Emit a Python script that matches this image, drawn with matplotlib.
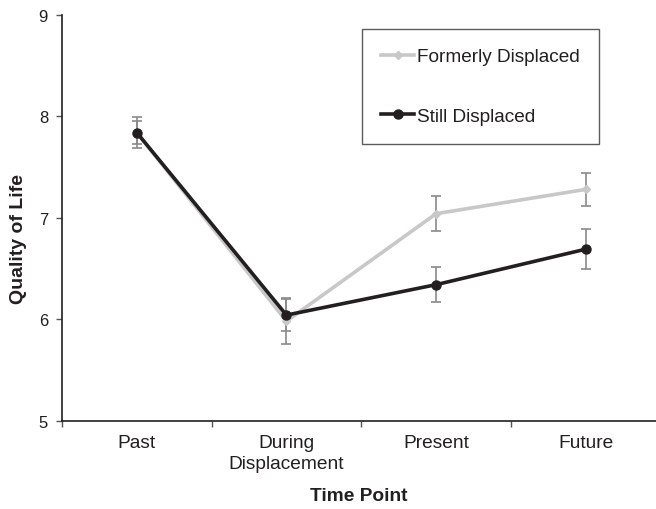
import numpy as np
import matplotlib.pyplot as plt

plt.rcParams['font.family'] = ['Liberation Sans', 'DejaVu Sans']

# data
time_points = ['Past', 'During\nDisplacement', 'Present', 'Future']
formerly = [7.84, 5.98, 7.04, 7.28]
formerly_err = [0.15, 0.23, 0.17, 0.16]
still = [7.84, 6.04, 6.34, 6.69]
still_err = [0.11, 0.16, 0.17, 0.20]

fig = plt.figure(figsize=(6.56, 5.10), dpi=100)
ax = fig.add_axes([0.0945, 0.1735, 0.9055, 0.7951])

x = np.arange(len(time_points))
ecol = '#8a8a8a'
ax.errorbar(x, formerly, yerr=formerly_err, fmt='none', ecolor=ecol,
            elinewidth=1.2, capsize=3.5, capthick=1.2, zorder=2)
ax.errorbar(x, still, yerr=still_err, fmt='none', ecolor=ecol,
            elinewidth=1.2, capsize=3.5, capthick=1.2, zorder=2)
ax.plot(x, formerly, color='#c8c8c8', lw=2.6, marker='D', ms=4.5,
        label='Formerly Displaced', zorder=3)
ax.plot(x, still, color='#231f20', lw=2.6, marker='o', ms=6.5,
        label='Still Displaced', zorder=4)

ax.set_ylim(5, 9)
ax.set_yticks([5, 6, 7, 8, 9])
ax.set_xlim(-0.5, 3.47)

# category ticks sit between the groups, labels at the centres
ax.set_xticks([-0.5, 0.5, 1.5, 2.5])
ax.set_xticklabels([])
ax.set_xticks(x, minor=True)
ax.set_xticklabels(time_points, minor=True, fontsize=13.8, color='#231f20',
                   linespacing=1.3)
ax.tick_params(axis='x', which='minor', length=0, pad=10)
ax.tick_params(axis='x', which='major', length=4, width=1, color='#555555')
ax.tick_params(axis='y', length=4, width=1, color='#555555', labelsize=12,
               labelcolor='#231f20', pad=6)

for s in ['top', 'right']:
    ax.spines[s].set_visible(False)
for s in ['left', 'bottom']:
    ax.spines[s].set_color('#231f20')
    ax.spines[s].set_linewidth(1.2)

ax.set_ylabel('Quality of Life', fontsize=14, fontweight='bold', color='#231f20')
ax.yaxis.set_label_coords(-0.074, 0.45)
ax.yaxis.label.set_va('center')
ax.set_xlabel('Time Point', fontsize=13.8, fontweight='bold', color='#231f20')
ax.xaxis.set_label_coords(0.5, -0.186)
ax.xaxis.label.set_va('center')

leg = ax.legend(loc='upper left', bbox_to_anchor=(362 / 656, 1 - 30 / 510),
                bbox_transform=fig.transFigure, fontsize=13.7, frameon=True,
                fancybox=False, edgecolor='#333333', borderpad=1.0,
                labelspacing=2.2, handlelength=1.75, handletextpad=0.15,
                borderaxespad=0)
leg.get_frame().set_linewidth(1.0)
for t in leg.get_texts():
    t.set_color('#231f20')

fig.savefig('out.png', dpi=100)
